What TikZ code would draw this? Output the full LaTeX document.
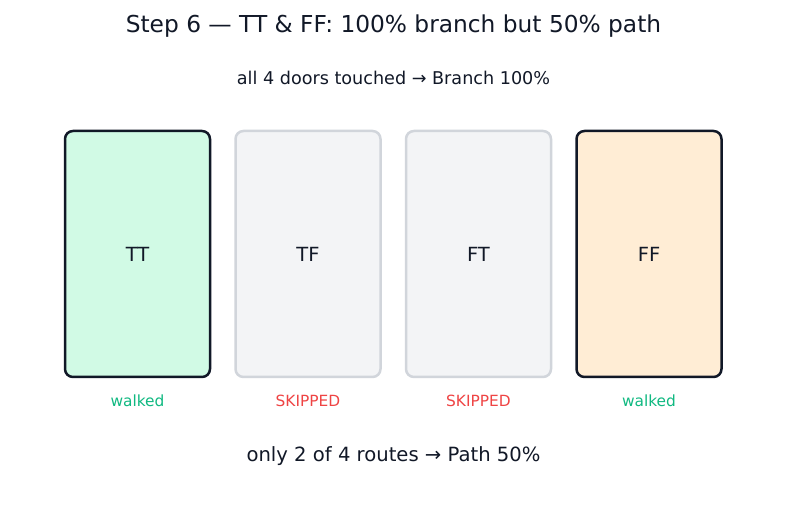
\documentclass[tikz,border=0pt]{standalone}
\usepackage{fontspec}
\setmainfont{DejaVu Sans}
\usetikzlibrary{positioning}
\definecolor{ink}{HTML}{111827}
\definecolor{walkfill}{HTML}{D1FAE5}
\definecolor{ffill}{HTML}{FFEDD5}
\definecolor{skipfill}{HTML}{F3F4F6}
\definecolor{skipline}{HTML}{D1D5DB}
\definecolor{walkgreen}{HTML}{10B981}
\definecolor{skipred}{HTML}{EF4444}
\begin{document}
\begin{tikzpicture}[x=1pt,y=-1pt,
    door/.style={rounded corners=8pt, line width=2.5pt, minimum width=145pt,
      minimum height=246pt, inner sep=0pt, outer sep=0pt,
      font=\fontsize{19.5}{22}\selectfont, text=ink},
    walkeddoor/.style={door, draw=ink},
    skipdoor/.style={door, draw=skipline, fill=skipfill},
    tag/.style={font=\fontsize{15.4}{18}\selectfont}]
  \useasboundingbox[fill=white] (0,0) rectangle (787,510);
  \node[text=ink, font=\fontsize{23.3}{28}\selectfont] (title) at (393.5,26)
    {Step 6 — TT \& FF: 100\% branch but 50\% path};
  \node[text=ink, font=\fontsize{17.6}{21}\selectfont] (sub) at (393.5,78)
    {all 4 doors touched → Branch 100\%};

  \node[walkeddoor, fill=walkfill] (TT) at (137.5,254) {TT};
  \node[skipdoor, right=25.5pt of TT] (TF) {TF};
  \node[skipdoor, right=25.5pt of TF] (FT) {FT};
  \node[walkeddoor, fill=ffill, right=25.5pt of FT] (FF) {FF};

  \node[tag, text=walkgreen] (tTT) at (TT |- 0,401) {walked};
  \node[tag, text=skipred] (tTF) at (TF |- 0,401) {SKIPPED};
  \node[tag, text=skipred] (tFT) at (FT |- 0,401) {SKIPPED};
  \node[tag, text=walkgreen] (tFF) at (FF |- 0,401) {walked};

  \node[text=ink, font=\fontsize{19.6}{23}\selectfont] (foot) at (393.5,456)
    {only 2 of 4 routes → Path 50\%};
\end{tikzpicture}
\end{document}
